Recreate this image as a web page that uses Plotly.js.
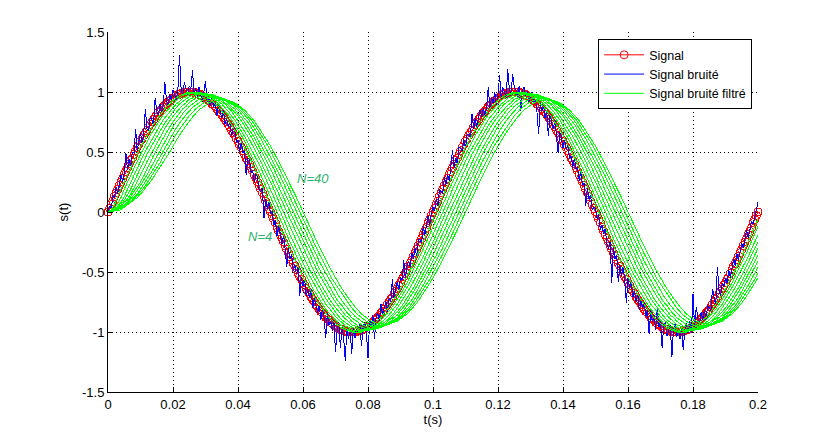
<!DOCTYPE html>
<html><head><meta charset="utf-8">
<script src="https://cdn.plot.ly/plotly-3.0.1.min.js"></script>
<style>html,body{margin:0;padding:0;background:#fff}#chart{width:836px;height:440px}
#chart .scatterlayer path{shape-rendering:crispEdges}</style>
</head><body><div id="chart"></div>
<script>
// time step of sampled signals (s)
const signalDt = 0.0005;
const filteredDt = 0.001;

const signal = [0,.03,.06,.09,.13,.16,.19,.22,.25,.28,.31,.34,.37,.40,.43,.45,.48,.51,.54,.56,.59,.61,.64,.66,.68,.71,.73,.75,.77,.79,.81,.83,.84,.86,.88,.89,.90,.92,.93,.94,.95,.96,.97,.98,.98,.99,.99,1,1,1,1,1,1,1,.99,.99,.98,.98,.97,.96,.95,.94,.93,.92,.90,.89,.88,.86,.84,.83,.81,.79,.77,.75,.73,.71,.68,.66,.64,.61,.59,.56,.54,.51,.48,.45,.43,.40,.37,.34,.31,.28,.25,.22,.19,.16,.13,.09,.06,.03,0,
-.03,-.06,-.09,-.13,-.16,-.19,-.22,-.25,-.28,-.31,-.34,-.37,-.40,-.43,-.45,-.48,-.51,-.54,-.56,-.59,-.61,-.64,-.66,-.68,-.71,-.73,-.75,-.77,-.79,-.81,-.83,-.84,-.86,-.88,-.89,-.90,-.92,-.93,-.94,-.95,-.96,-.97,-.98,-.98,-.99,-.99,-1,-1,-1,-1,-1,-1,-1,-.99,-.99,-.98,-.98,-.97,-.96,-.95,-.94,-.93,-.92,-.90,-.89,-.88,-.86,-.84,-.83,-.81,-.79,-.77,-.75,-.73,-.71,-.68,-.66,-.64,-.61,-.59,-.56,-.54,-.51,-.48,-.45,-.43,-.40,-.37,-.34,-.31,-.28,-.25,-.22,-.19,-.16,-.13,-.09,-.06,-.03,0,
.03,.06,.09,.13,.16,.19,.22,.25,.28,.31,.34,.37,.40,.43,.45,.48,.51,.54,.56,.59,.61,.64,.66,.68,.71,.73,.75,.77,.79,.81,.83,.84,.86,.88,.89,.90,.92,.93,.94,.95,.96,.97,.98,.98,.99,.99,1,1,1,1,1,1,1,.99,.99,.98,.98,.97,.96,.95,.94,.93,.92,.90,.89,.88,.86,.84,.83,.81,.79,.77,.75,.73,.71,.68,.66,.64,.61,.59,.56,.54,.51,.48,.45,.43,.40,.37,.34,.31,.28,.25,.22,.19,.16,.13,.09,.06,.03,0,
-.03,-.06,-.09,-.13,-.16,-.19,-.22,-.25,-.28,-.31,-.34,-.37,-.40,-.43,-.45,-.48,-.51,-.54,-.56,-.59,-.61,-.64,-.66,-.68,-.71,-.73,-.75,-.77,-.79,-.81,-.83,-.84,-.86,-.88,-.89,-.90,-.92,-.93,-.94,-.95,-.96,-.97,-.98,-.98,-.99,-.99,-1,-1,-1,-1,-1,-1,-1,-.99,-.99,-.98,-.98,-.97,-.96,-.95,-.94,-.93,-.92,-.90,-.89,-.88,-.86,-.84,-.83,-.81,-.79,-.77,-.75,-.73,-.71,-.68,-.66,-.64,-.61,-.59,-.56,-.54,-.51,-.48,-.45,-.43,-.40,-.37,-.34,-.31,-.28,-.25,-.22,-.19,-.16,-.13,-.09,-.06,-.03,0];

const noisy = [0,.05,.03,.13,.12,.21,.15,.25,.31,.25,.33,.49,.35,.44,.38,.50,.49,.69,.51,.59,.66,.57,.66,.86,.69,.68,.79,.77,.72,.95,.84,.81,.90,.82,.89,1.08,.93,.89,.98,.93,1.02,.98,.93,1.02,1.31,1.02,.97,1.08,1.01,.97,1.05,
1.03,1.18,.98,1.03,.96,1.04,.99,.92,1.00,1.09,.92,.95,.88,.96,.88,.91,.80,.89,.84,.78,.86,.73,.77,.71,.76,.63,.69,.70,.58,.60,.50,.58,.49,.51,.31,.45,.45,.33,.35,.25,.31,.30,.18,.17,.20,-.05,.11,.03,.08,-.01,
0,-.11,-.07,-.20,-.12,-.18,-.27,-.19,-.31,-.46,-.30,-.39,-.35,-.49,-.44,-.52,-.45,-.70,-.54,-.62,-.56,-.70,-.64,-.72,-.64,-.80,-.72,-.78,-.84,-.77,-.90,-.81,-.88,-1.05,-.84,-.94,-.91,-.99,-.90,-1.17,-.99,-.92,-1.13,-.96,-1.04,-1.24,-.97,-1.06,-.98,-1.18,
-.97,-1.05,-.96,-1.01,-.93,-1.12,-.96,-.92,-.99,-1.22,-.90,-.95,-.86,-1.06,-.87,-.84,-.91,-.77,-.86,-.80,-.74,-.83,-.72,-.75,-.56,-.72,-.64,-.58,-.65,-.54,-.57,-.40,-.56,-.45,-.41,-.46,-.34,-.39,-.30,-.37,-.23,-.23,-.26,-.12,-.19,-.10,-.03,-.11,-.01,.04,
.01,.11,.05,.19,.17,.15,.29,.23,.31,.26,.38,.52,.37,.45,.40,.54,.53,.51,.61,.53,.65,.65,.62,.82,.69,.78,.69,.80,.85,.79,.87,.80,.88,1.04,.86,.95,.91,1.00,.89,.98,1.14,.94,1.04,.99,.95,1.19,1.02,.97,1.15,1.04,
1.02,.96,1.05,.84,1.02,1.04,.96,1.01,.92,.96,1.00,.90,.94,.83,.65,.91,.84,.89,.78,.84,.63,.81,.76,.69,.77,.65,.49,.67,.62,.53,.60,.52,.56,.44,.47,.37,.45,.36,.37,.26,.34,.22,.24,.05,.20,.11,.14,.02,.04,.03,
-.06,-.02,-.15,-.11,-.18,-.14,-.26,-.31,-.25,-.59,-.29,-.39,-.36,-.58,-.44,-.53,-.45,-.57,-.76,-.55,-.63,-.58,-.71,-.66,-.75,-.68,-.82,-.74,-.80,-.76,-.87,-.82,-1.02,-.82,-.92,-.86,-.98,-.79,-.96,-.91,-1.13,-.94,-.92,-1.03,-1.00,-.94,-1.21,-.97,-.93,-1.04,
-.98,-1.06,-.96,-1.15,-.97,-.93,-1.01,-.91,-1.01,-.68,-.96,-.79,-.89,-.94,-.83,-.90,-.82,-.90,-.78,-.80,-.82,-.64,-.73,-.78,-.46,-.65,-.70,-.59,-.62,-.55,-.59,-.48,-.55,-.45,-.39,-.45,-.35,-.40,-.32,-.26,-.30,-.21,-.15,-.22,-.14,-.08,-.10,-.03,.03,.08];

const filtN4 = [0,.02,
.06,.13,.19,.25,.31,.37,.43,.48,.54,.59,.64,.68,.73,.77,.81,.84,.88,.90,.93,.95,.97,.98,.99,1,1,
1,.99,.98,.97,.95,.93,.90,.88,.84,.81,.77,.73,.68,.64,.59,.54,.48,.43,.37,.31,.25,.19,.13,.06,0,
-.06,-.13,-.19,-.25,-.31,-.37,-.43,-.48,-.54,-.59,-.64,-.68,-.73,-.77,-.81,-.84,-.88,-.90,-.93,-.95,-.97,-.98,-.99,-1,-1,
-1,-.99,-.98,-.97,-.95,-.93,-.90,-.88,-.84,-.81,-.77,-.73,-.68,-.64,-.59,-.54,-.48,-.43,-.37,-.31,-.25,-.19,-.13,-.06,0,
.06,.13,.19,.25,.31,.37,.43,.48,.54,.59,.64,.68,.73,.77,.81,.84,.88,.90,.93,.95,.97,.98,.99,1,1,
1,.99,.98,.97,.95,.93,.90,.88,.84,.81,.77,.73,.68,.64,.59,.54,.48,.43,.37,.31,.25,.19,.13,.06,0,
-.06,-.13,-.19,-.25,-.31,-.37,-.43,-.48,-.54,-.59,-.64,-.68,-.73,-.77,-.81,-.84,-.88,-.90,-.93,-.95,-.97,-.98,-.99,-1,-1,
-1,-.99,-.98,-.97,-.95,-.93,-.90,-.88,-.84,-.81,-.77,-.73,-.68,-.64,-.59,-.54,-.48,-.43,-.37,-.31,-.25,-.19,-.13,-.06];

const filtN8 = [0,.01,.03,.07,
.12,.19,.25,.31,.37,.42,.48,.53,.59,.64,.68,.73,.77,.81,.84,.87,.90,.93,.95,.97,.98,.99,1,1,
1,.99,.98,.97,.95,.93,.90,.87,.84,.81,.77,.73,.68,.64,.59,.53,.48,.42,.37,.31,.25,.19,.12,.06,0,
-.06,-.12,-.19,-.25,-.31,-.37,-.42,-.48,-.53,-.59,-.64,-.68,-.73,-.77,-.81,-.84,-.87,-.90,-.93,-.95,-.97,-.98,-.99,-1,-1,
-1,-.99,-.98,-.97,-.95,-.93,-.90,-.87,-.84,-.81,-.77,-.73,-.68,-.64,-.59,-.53,-.48,-.42,-.37,-.31,-.25,-.19,-.12,-.06,0,
.06,.12,.19,.25,.31,.37,.42,.48,.53,.59,.64,.68,.73,.77,.81,.84,.87,.90,.93,.95,.97,.98,.99,1,1,
1,.99,.98,.97,.95,.93,.90,.87,.84,.81,.77,.73,.68,.64,.59,.53,.48,.42,.37,.31,.25,.19,.12,.06,0,
-.06,-.12,-.19,-.25,-.31,-.37,-.42,-.48,-.53,-.59,-.64,-.68,-.73,-.77,-.81,-.84,-.87,-.90,-.93,-.95,-.97,-.98,-.99,-1,-1,
-1,-.99,-.98,-.97,-.95,-.93,-.90,-.87,-.84,-.81,-.77,-.73,-.68,-.64,-.59,-.53,-.48,-.42,-.37,-.31,-.25,-.19,-.12];

const filtN12 = [0,.01,.02,.05,.08,.13,
.19,.25,.31,.37,.42,.48,.53,.58,.63,.68,.72,.77,.80,.84,.87,.90,.92,.95,.96,.98,.99,.99,.99,
.99,.99,.98,.96,.95,.92,.90,.87,.84,.80,.77,.72,.68,.63,.58,.53,.48,.42,.37,.31,.25,.19,.12,.06,0,
-.06,-.12,-.19,-.25,-.31,-.37,-.42,-.48,-.53,-.58,-.63,-.68,-.72,-.77,-.80,-.84,-.87,-.90,-.92,-.95,-.96,-.98,-.99,-.99,-.99,
-.99,-.99,-.98,-.96,-.95,-.92,-.90,-.87,-.84,-.80,-.77,-.72,-.68,-.63,-.58,-.53,-.48,-.42,-.37,-.31,-.25,-.19,-.12,-.06,0,
.06,.12,.19,.25,.31,.37,.42,.48,.53,.58,.63,.68,.72,.77,.80,.84,.87,.90,.92,.95,.96,.98,.99,.99,.99,
.99,.99,.98,.96,.95,.92,.90,.87,.84,.80,.77,.72,.68,.63,.58,.53,.48,.42,.37,.31,.25,.19,.12,.06,0,
-.06,-.12,-.19,-.25,-.31,-.37,-.42,-.48,-.53,-.58,-.63,-.68,-.72,-.77,-.80,-.84,-.87,-.90,-.92,-.95,-.96,-.98,-.99,-.99,-.99,
-.99,-.99,-.98,-.96,-.95,-.92,-.90,-.87,-.84,-.80,-.77,-.72,-.68,-.63,-.58,-.53,-.48,-.42,-.37,-.31,-.25,-.19];

const filtN16 = [0,0,.02,.04,.06,.10,.14,.19,
.25,.31,.36,.42,.48,.53,.58,.63,.68,.72,.76,.80,.84,.87,.90,.92,.94,.96,.97,.98,.99,.99,
.99,.98,.97,.96,.94,.92,.90,.87,.84,.80,.76,.72,.68,.63,.58,.53,.48,.42,.36,.31,.25,.19,.12,.06,0,
-.06,-.12,-.19,-.25,-.31,-.36,-.42,-.48,-.53,-.58,-.63,-.68,-.72,-.76,-.80,-.84,-.87,-.90,-.92,-.94,-.96,-.97,-.98,-.99,-.99,
-.99,-.98,-.97,-.96,-.94,-.92,-.90,-.87,-.84,-.80,-.76,-.72,-.68,-.63,-.58,-.53,-.48,-.42,-.36,-.31,-.25,-.19,-.12,-.06,0,
.06,.12,.19,.25,.31,.36,.42,.48,.53,.58,.63,.68,.72,.76,.80,.84,.87,.90,.92,.94,.96,.97,.98,.99,.99,
.99,.98,.97,.96,.94,.92,.90,.87,.84,.80,.76,.72,.68,.63,.58,.53,.48,.42,.36,.31,.25,.19,.12,.06,0,
-.06,-.12,-.19,-.25,-.31,-.36,-.42,-.48,-.53,-.58,-.63,-.68,-.72,-.76,-.80,-.84,-.87,-.90,-.92,-.94,-.96,-.97,-.98,-.99,-.99,
-.99,-.98,-.97,-.96,-.94,-.92,-.90,-.87,-.84,-.80,-.76,-.72,-.68,-.63,-.58,-.53,-.48,-.42,-.36,-.31,-.25];

const filtN20 = [0,0,.01,.03,.05,.08,.11,.15,.20,.25,
.30,.36,.42,.47,.53,.58,.63,.67,.72,.76,.80,.83,.86,.89,.91,.94,.95,.97,.98,.98,.98,
.98,.98,.97,.95,.94,.91,.89,.86,.83,.80,.76,.72,.67,.63,.58,.53,.47,.42,.36,.30,.24,.18,.12,.06,0,
-.06,-.12,-.18,-.24,-.30,-.36,-.42,-.47,-.53,-.58,-.63,-.67,-.72,-.76,-.80,-.83,-.86,-.89,-.91,-.94,-.95,-.97,-.98,-.98,-.98,
-.98,-.98,-.97,-.95,-.94,-.91,-.89,-.86,-.83,-.80,-.76,-.72,-.67,-.63,-.58,-.53,-.47,-.42,-.36,-.30,-.24,-.18,-.12,-.06,0,
.06,.12,.18,.24,.30,.36,.42,.47,.53,.58,.63,.67,.72,.76,.80,.83,.86,.89,.91,.94,.95,.97,.98,.98,.98,
.98,.98,.97,.95,.94,.91,.89,.86,.83,.80,.76,.72,.67,.63,.58,.53,.47,.42,.36,.30,.24,.18,.12,.06,0,
-.06,-.12,-.18,-.24,-.30,-.36,-.42,-.47,-.53,-.58,-.63,-.67,-.72,-.76,-.80,-.83,-.86,-.89,-.91,-.94,-.95,-.97,-.98,-.98,-.98,
-.98,-.98,-.97,-.95,-.94,-.91,-.89,-.86,-.83,-.80,-.76,-.72,-.67,-.63,-.58,-.53,-.47,-.42,-.36,-.30];

const filtN24 = [0,0,.01,.02,.04,.06,.09,.13,.16,.21,.25,.30,
.36,.42,.47,.52,.57,.62,.67,.71,.75,.79,.82,.86,.88,.91,.93,.95,.96,.97,.97,.98,
.97,.97,.96,.95,.93,.91,.88,.86,.82,.79,.75,.71,.67,.62,.57,.52,.47,.42,.36,.30,.24,.18,.12,.06,0,
-.06,-.12,-.18,-.24,-.30,-.36,-.42,-.47,-.52,-.57,-.62,-.67,-.71,-.75,-.79,-.82,-.86,-.88,-.91,-.93,-.95,-.96,-.97,-.97,-.98,
-.97,-.97,-.96,-.95,-.93,-.91,-.88,-.86,-.82,-.79,-.75,-.71,-.67,-.62,-.57,-.52,-.47,-.42,-.36,-.30,-.24,-.18,-.12,-.06,0,
.06,.12,.18,.24,.30,.36,.42,.47,.52,.57,.62,.67,.71,.75,.79,.82,.86,.88,.91,.93,.95,.96,.97,.97,.98,
.97,.97,.96,.95,.93,.91,.88,.86,.82,.79,.75,.71,.67,.62,.57,.52,.47,.42,.36,.30,.24,.18,.12,.06,0,
-.06,-.12,-.18,-.24,-.30,-.36,-.42,-.47,-.52,-.57,-.62,-.67,-.71,-.75,-.79,-.82,-.86,-.88,-.91,-.93,-.95,-.96,-.97,-.97,-.98,
-.97,-.97,-.96,-.95,-.93,-.91,-.88,-.86,-.82,-.79,-.75,-.71,-.67,-.62,-.57,-.52,-.47,-.42,-.36];

const filtN28 = [0,0,.01,.02,.04,.06,.08,.11,.14,.18,.22,.26,.31,.36,
.41,.47,.52,.57,.62,.66,.71,.75,.78,.82,.85,.88,.90,.92,.94,.95,.96,.97,.97,
.97,.96,.95,.94,.92,.90,.88,.85,.82,.78,.75,.71,.66,.62,.57,.52,.47,.41,.36,.30,.24,.18,.12,.06,0,
-.06,-.12,-.18,-.24,-.30,-.36,-.41,-.47,-.52,-.57,-.62,-.66,-.71,-.75,-.78,-.82,-.85,-.88,-.90,-.92,-.94,-.95,-.96,-.97,-.97,
-.97,-.96,-.95,-.94,-.92,-.90,-.88,-.85,-.82,-.78,-.75,-.71,-.66,-.62,-.57,-.52,-.47,-.41,-.36,-.30,-.24,-.18,-.12,-.06,0,
.06,.12,.18,.24,.30,.36,.41,.47,.52,.57,.62,.66,.71,.75,.78,.82,.85,.88,.90,.92,.94,.95,.96,.97,.97,
.97,.96,.95,.94,.92,.90,.88,.85,.82,.78,.75,.71,.66,.62,.57,.52,.47,.41,.36,.30,.24,.18,.12,.06,0,
-.06,-.12,-.18,-.24,-.30,-.36,-.41,-.47,-.52,-.57,-.62,-.66,-.71,-.75,-.78,-.82,-.85,-.88,-.90,-.92,-.94,-.95,-.96,-.97,-.97,
-.97,-.96,-.95,-.94,-.92,-.90,-.88,-.85,-.82,-.78,-.75,-.71,-.66,-.62,-.57,-.52,-.47,-.41];

const filtN32 = [0,0,.01,.02,.03,.05,.07,.09,.12,.15,.19,.23,.27,.31,.36,.41,
.46,.51,.56,.61,.66,.70,.74,.78,.81,.84,.87,.89,.91,.93,.94,.95,.96,.96,
.96,.95,.94,.93,.91,.89,.87,.84,.81,.78,.74,.70,.66,.61,.56,.51,.46,.41,.35,.30,.24,.18,.12,.06,0,
-.06,-.12,-.18,-.24,-.30,-.35,-.41,-.46,-.51,-.56,-.61,-.66,-.70,-.74,-.78,-.81,-.84,-.87,-.89,-.91,-.93,-.94,-.95,-.96,-.96,
-.96,-.95,-.94,-.93,-.91,-.89,-.87,-.84,-.81,-.78,-.74,-.70,-.66,-.61,-.56,-.51,-.46,-.41,-.35,-.30,-.24,-.18,-.12,-.06,0,
.06,.12,.18,.24,.30,.35,.41,.46,.51,.56,.61,.66,.70,.74,.78,.81,.84,.87,.89,.91,.93,.94,.95,.96,.96,
.96,.95,.94,.93,.91,.89,.87,.84,.81,.78,.74,.70,.66,.61,.56,.51,.46,.41,.35,.30,.24,.18,.12,.06,0,
-.06,-.12,-.18,-.24,-.30,-.35,-.41,-.46,-.51,-.56,-.61,-.66,-.70,-.74,-.78,-.81,-.84,-.87,-.89,-.91,-.93,-.94,-.95,-.96,-.96,
-.96,-.95,-.94,-.93,-.91,-.89,-.87,-.84,-.81,-.78,-.74,-.70,-.66,-.61,-.56,-.51,-.46];

const filtN36 = [0,0,.01,.02,.03,.04,.06,.08,.11,.14,.17,.20,.24,.28,.32,.36,.41,.46,
.51,.56,.60,.65,.69,.73,.77,.80,.83,.86,.88,.90,.92,.93,.94,.95,.95,
.95,.94,.93,.92,.90,.88,.86,.83,.80,.77,.73,.69,.65,.60,.56,.51,.46,.40,.35,.29,.24,.18,.12,.06,0,
-.06,-.12,-.18,-.24,-.29,-.35,-.40,-.46,-.51,-.56,-.60,-.65,-.69,-.73,-.77,-.80,-.83,-.86,-.88,-.90,-.92,-.93,-.94,-.95,-.95,
-.95,-.94,-.93,-.92,-.90,-.88,-.86,-.83,-.80,-.77,-.73,-.69,-.65,-.60,-.56,-.51,-.46,-.40,-.35,-.29,-.24,-.18,-.12,-.06,0,
.06,.12,.18,.24,.29,.35,.40,.46,.51,.56,.60,.65,.69,.73,.77,.80,.83,.86,.88,.90,.92,.93,.94,.95,.95,
.95,.94,.93,.92,.90,.88,.86,.83,.80,.77,.73,.69,.65,.60,.56,.51,.46,.40,.35,.29,.24,.18,.12,.06,0,
-.06,-.12,-.18,-.24,-.29,-.35,-.40,-.46,-.51,-.56,-.60,-.65,-.69,-.73,-.77,-.80,-.83,-.86,-.88,-.90,-.92,-.93,-.94,-.95,-.95,
-.95,-.94,-.93,-.92,-.90,-.88,-.86,-.83,-.80,-.77,-.73,-.69,-.65,-.60,-.56,-.51];

const filtN40 = [0,0,.01,.01,.02,.04,.06,.08,.10,.12,.15,.18,.22,.25,.29,.33,.37,.41,.46,.50,
.55,.60,.64,.68,.72,.76,.79,.82,.85,.87,.89,.91,.92,.93,.93,.94,
.93,.93,.92,.91,.89,.87,.85,.82,.79,.76,.72,.68,.64,.60,.55,.50,.45,.40,.34,.29,.23,.18,.12,.06,0,
-.06,-.12,-.18,-.23,-.29,-.34,-.40,-.45,-.50,-.55,-.60,-.64,-.68,-.72,-.76,-.79,-.82,-.85,-.87,-.89,-.91,-.92,-.93,-.93,-.94,
-.93,-.93,-.92,-.91,-.89,-.87,-.85,-.82,-.79,-.76,-.72,-.68,-.64,-.60,-.55,-.50,-.45,-.40,-.34,-.29,-.23,-.18,-.12,-.06,0,
.06,.12,.18,.23,.29,.34,.40,.45,.50,.55,.60,.64,.68,.72,.76,.79,.82,.85,.87,.89,.91,.92,.93,.93,.94,
.93,.93,.92,.91,.89,.87,.85,.82,.79,.76,.72,.68,.64,.60,.55,.50,.45,.40,.34,.29,.23,.18,.12,.06,0,
-.06,-.12,-.18,-.23,-.29,-.34,-.40,-.45,-.50,-.55,-.60,-.64,-.68,-.72,-.76,-.79,-.82,-.85,-.87,-.89,-.91,-.92,-.93,-.93,-.94,
-.93,-.93,-.92,-.91,-.89,-.87,-.85,-.82,-.79,-.76,-.72,-.68,-.64,-.60,-.55];

const filtered = [filtN4, filtN8, filtN12, filtN16, filtN20, filtN24, filtN28, filtN32, filtN36, filtN40];

const seriesNames = ["Signal", "Signal bruité", "Signal bruité filtré"];
const xTickVals = [0, 0.02, 0.04, 0.06, 0.08, 0.1, 0.12, 0.14, 0.16, 0.18, 0.2];
const xTickText = ["0", "0.02", "0.04", "0.06", "0.08", "0.1", "0.12", "0.14", "0.16", "0.18", "0.2"];
const yTickVals = [-1.5, -1, -0.5, 0, 0.5, 1, 1.5];
const yTickText = ["-1.5", "-1", "-0.5", "0", "0.5", "1", "1.5"];
const labelTexts = ["N=40", "N=4"];
const labelX = [0.0575, 0.0424];
const labelY = [0.277, -0.206];

const traces = [];
traces.push({
  type: 'scatter', mode: 'lines+markers', name: seriesNames[0],
  y: signal, x0: 0, dx: signalDt,
  line: {color: '#ff0000', width: 1},
  marker: {symbol: 'circle-open', size: 8, color: '#ff0000', line: {width: 1, color: '#ff0000'}},
  cliponaxis: false
});
traces.push({
  type: 'scatter', mode: 'lines', name: seriesNames[1],
  y: noisy, x0: 0, dx: signalDt,
  line: {color: '#0000ff', width: 1}
});
filtered.forEach((arr, i) => {
  traces.push({
    type: 'scatter', mode: 'lines', name: seriesNames[2],
    y: arr, x0: 0, dx: filteredDt,
    line: {color: '#00ff00', width: 1},
    legendgroup: 'filt', showlegend: i === 0
  });
});

const tickFont = {family: 'Liberation Sans Narrow, Arial Narrow, Liberation Sans, Arial, sans-serif', size: 13, color: '#000'};
const axisCommon = {
  showline: true, linecolor: '#000', linewidth: 1,
  ticks: 'inside', ticklen: 5, tickcolor: '#000', tickwidth: 1,
  showgrid: true, gridcolor: '#000', gridwidth: 1, griddash: '1px,3px',
  zeroline: false, mirror: false, tickfont: tickFont, fixedrange: true
};

const layout = {
  width: 836, height: 440,
  margin: {l: 108, r: 78, t: 32, b: 48},
  paper_bgcolor: '#fff', plot_bgcolor: '#fff',
  showlegend: true,
  xaxis: Object.assign({}, axisCommon, {
    range: [0, 0.2], tickmode: 'array', tickvals: xTickVals, ticktext: xTickText,
    title: {text: 't(s)', font: tickFont, standoff: 4}
  }),
  yaxis: Object.assign({}, axisCommon, {
    range: [-1.5, 1.5], tickmode: 'array', tickvals: yTickVals, ticktext: yTickText,
    title: {text: 's(t)', font: tickFont, standoff: 10}
  }),
  legend: {
    x: 0.991, y: 0.98, xanchor: 'right', yanchor: 'top',
    bgcolor: '#fff', bordercolor: '#000', borderwidth: 1,
    font: {family: 'Liberation Sans, Arial, sans-serif', size: 12.5, color: '#000'},
    itemwidth: 40, tracegroupgap: 0
  },
  annotations: labelTexts.map((t, i) => ({
    x: labelX[i], y: labelY[i], xref: 'x', yref: 'y', text: t, showarrow: false,
    xanchor: 'left', yanchor: 'middle',
    font: {family: 'Liberation Sans, Arial, sans-serif', size: 13, color: '#2fb56c', style: 'italic'}
  }))
};

Plotly.newPlot('chart', traces, layout, {displayModeBar: false, staticPlot: true});
</script>
</body></html>
